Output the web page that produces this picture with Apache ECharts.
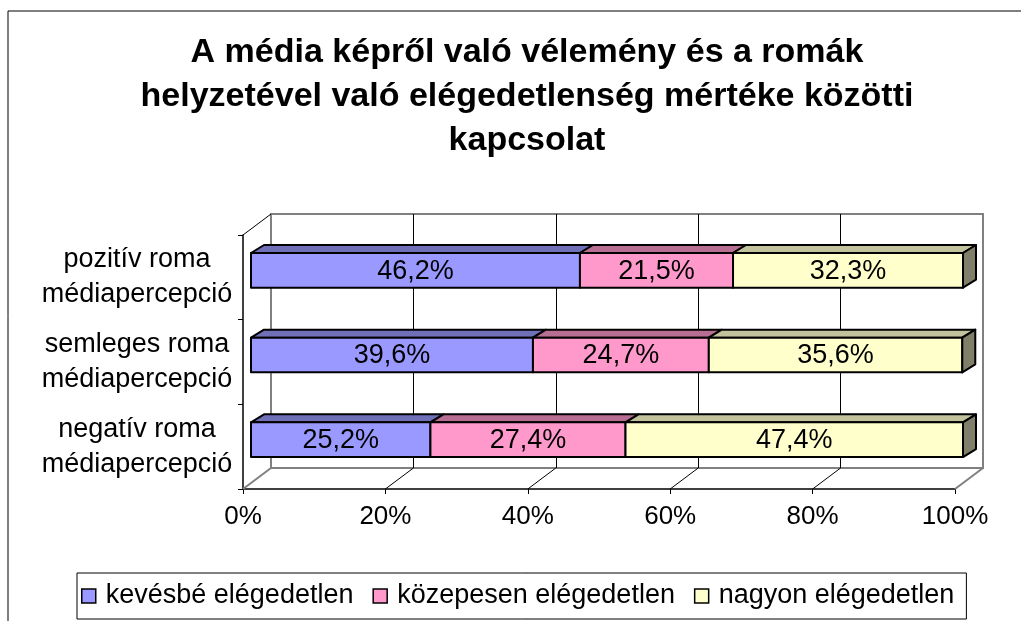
<!DOCTYPE html>
<html>
<head>
<meta charset="utf-8">
<script src="https://cdn.jsdelivr.net/npm/echarts@6/dist/echarts.min.js"></script>
<style>
html,body{margin:0;padding:0;background:#fff;}
#chart{width:1021px;height:621px;}
</style>
</head>
<body>
<div id="chart"></div>
<script>
// adatok
var categories = ['pozitív roma\nmédiapercepció', 'semleges roma\nmédiapercepció', 'negatív roma\nmédiapercepció'];
var seriesNames = ['kevésbé elégedetlen', 'közepesen elégedetlen', 'nagyon elégedetlen'];
var kevesbe = [46.2, 39.6, 25.2];
var kozepesen = [21.5, 24.7, 27.4];
var nagyon = [32.3, 35.6, 47.4];
var xTicks = [0, 20, 40, 60, 80, 100];

var frontColors = ['#9999FF', '#FF99CC', '#FFFFCC'];
var topColors = ['#7070B8', '#B86E93', '#C2C29C'];
var sideColors = ['#50507F', '#7F4D66', '#80806A'];

// 3D eltolás
var DEPTH_X = 28, DEPTH_Y = -21;
var BAR_X = 8, BAR_Y = -7;
var BAR_DX = 13, BAR_DY = -8;

var font = '"Liberation Sans", Arial, sans-serif';

function fmt(v){
    return v.toFixed(1).replace('.', ',') + '%';
}

// halmozott kezdőpontok
var allVals = [kevesbe, kozepesen, nagyon];
function buildData(k){
    var out = [];
    for(var i=0; i<categories.length; i++){
        var start = 0;
        for(var j=0; j<k; j++) start += allVals[j][i];
        out.push([start, start + allVals[k][i], i, allVals[k][i]]);
    }
    return out;
}

function barRender(k){
    return function(params, api){
        var start = api.value(0), end = api.value(1), cat = api.value(2);
        var p0 = api.coord([start, cat]);
        var p1 = api.coord([end, cat]);
        var h = api.size([0, 1])[1] * 0.41;
        var x0 = p0[0] + BAR_X, x1 = p1[0] + BAR_X;
        var top = p0[1] + BAR_Y - h/2, bot = top + h;
        var style = {stroke:'#000', lineWidth:2, lineJoin:'round'};
        var children = [
            {type:'polygon', shape:{points:[[x0,top],[x1,top],[x1+BAR_DX,top+BAR_DY],[x0+BAR_DX,top+BAR_DY]]},
             style:Object.assign({fill:topColors[k]}, style)},
            {type:'rect', shape:{x:x0, y:top, width:x1-x0, height:h},
             style:Object.assign({fill:frontColors[k]}, style)}
        ];
        if(k == allVals.length-1){
            children.push({type:'polygon', shape:{points:[[x1,top],[x1+BAR_DX,top+BAR_DY],[x1+BAR_DX,bot+BAR_DY],[x1,bot]]},
                style:Object.assign({fill:sideColors[k]}, style)});
        }
        children.push({type:'text', style:{
            x:(x0+x1)/2, y:(top+bot)/2 + 1, text:fmt(api.value(3)),
            align:'center', verticalAlign:'middle',
            fontFamily:font, fontSize:27, fill:'#000'
        }});
        return {type:'group', children:children};
    };
}

// padló és oldalfal átlós vonalai
function frameRender(params, api){
    var v = api.value(0);
    var cs = params.coordSys;
    var x = api.coord([v, 0])[0];
    var y = cs.y + cs.height;
    var edge = (v == 0 || v == 100);
    var children = [{type:'line', shape:{x1:x, y1:y, x2:x+DEPTH_X, y2:y+DEPTH_Y},
        style:{stroke: edge ? '#808080' : '#000', lineWidth: edge ? 2 : 1}}];
    if(v == 0){
        children.push({type:'line', shape:{x1:x, y1:cs.y, x2:x+DEPTH_X, y2:cs.y+DEPTH_Y},
            style:{stroke:'#000', lineWidth:1}});
    }
    return {type:'group', children:children};
}

var series = [{
    type:'custom', name:'frame', xAxisIndex:0, yAxisIndex:0, silent:true, z:1,
    data: xTicks.map(function(v){ return [v, 0]; }),
    renderItem: frameRender
}];
for(var k=0; k<seriesNames.length; k++){
    series.push({
        type:'custom', name:seriesNames[k], xAxisIndex:0, yAxisIndex:0, z:5,
        itemStyle:{color:frontColors[k]},
        encode:{x:[0,1], y:2},
        data: buildData(k),
        renderItem: barRender(k)
    });
}

var option = {
    animation:false,
    backgroundColor:'#fff',
    title:{
        text:'A média képről való vélemény és a romák\nhelyzetével való elégedetlenség mértéke közötti\nkapcsolat',
        left:522, top:26, textAlign:'center',
        textStyle:{fontFamily:font, fontSize:34, fontWeight:'bold', color:'#000', lineHeight:44}
    },
    graphic:[{type:'rect', shape:{x:8, y:11, width:1200, height:800}, silent:true,
        style:{fill:'none', stroke:'#000', lineWidth:1}}],
    legend:{
        data:seriesNames, left:77, top:573, orient:'horizontal',
        padding:[9, 12, 9, 4], itemGap:19,
        borderColor:'#000', borderWidth:1,
        icon:'path://M0,0h10v10h-10z', itemWidth:24, itemHeight:14,
        itemStyle:{borderColor:'#000', borderWidth:1.5},
        textStyle:{fontFamily:font, fontSize:27, color:'#000', lineHeight:28}
    },
    grid:[
        {left:243, top:235, width:712, height:254, containLabel:false, outerBoundsMode:'none'},
        {left:271, top:214, width:712, height:254, containLabel:false, outerBoundsMode:'none',
         show:true, borderColor:'#808080', borderWidth:2, backgroundColor:'transparent'}
    ],
    xAxis:[
        {type:'value', gridIndex:0, min:0, max:100, interval:20,
         axisLine:{show:true, lineStyle:{color:'#000', width:1.5}},
         axisTick:{show:true, length:5, lineStyle:{color:'#000'}},
         axisLabel:{formatter:'{value}%', margin:15, fontFamily:font, fontSize:26, color:'#000'},
         splitLine:{show:false}},
        {type:'value', gridIndex:1, min:0, max:100, interval:20,
         axisLine:{show:false}, axisTick:{show:false}, axisLabel:{show:false},
         splitLine:{show:true, lineStyle:{color:['#808080','#000','#000','#000','#000','#808080'], width:1}}}
    ],
    yAxis:[
        {type:'category', gridIndex:0, data:categories, inverse:true,
         axisLine:{show:true, lineStyle:{color:'#000', width:1.5}},
         axisTick:{show:true, length:5, lineStyle:{color:'#000'}},
         axisLabel:{align:'center', margin:106, fontFamily:font, fontSize:27, color:'#000', lineHeight:35},
         splitLine:{show:false}},
        {type:'value', gridIndex:1, min:0, max:1, show:false, splitLine:{show:false}}
    ],
    series:series
};

var chart = echarts.init(document.getElementById('chart'));
chart.setOption(option);
window.onresize = chart.resize;
</script>
</body>
</html>
